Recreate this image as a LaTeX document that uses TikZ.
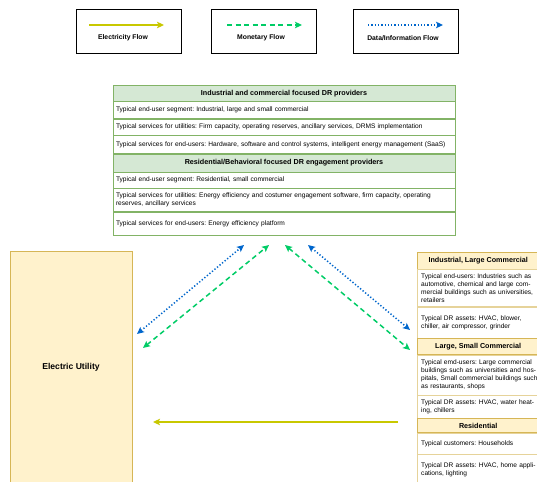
\documentclass[tikz,border=0pt]{standalone}
\usepackage{fontspec}
\setmainfont{Liberation Sans}
\usetikzlibrary{arrows.meta,positioning}
\definecolor{elecflow}{HTML}{C8C800}
\definecolor{moneyflow}{HTML}{00CC66}
\definecolor{dataflow}{HTML}{0066CC}
\definecolor{provfill}{HTML}{D5E8D4}
\definecolor{provline}{HTML}{82B366}
\definecolor{custfill}{HTML}{FFF2CC}
\definecolor{custline}{HTML}{D6B656}
\newcommand{\rowfont}{\frenchspacing\fontsize{6.6}{8}\selectfont}
\newcommand{\headfont}{\bfseries\fontsize{7.2}{8.5}\selectfont}
\tikzset{flowtip/.tip={Stealth[length=7pt,width=6.5pt,inset=1.5pt]}}

\begin{document}
\begin{tikzpicture}[x=1pt,y=-1pt,
  legbox/.style={draw=black,line width=1pt,minimum width=105,minimum height=44,inner sep=0pt},
  leglbl/.style={font=\bfseries\fontsize{6.8}{8}\selectfont},
  elecarrow/.style={draw=elecflow,line width=1.5pt,-flowtip},
  moneyarrow/.style={draw=moneyflow,line width=1.5pt,dash pattern=on 5pt off 3.5pt},
  dataarrow/.style={draw=dataflow,line width=1.5pt,dash pattern=on 1.3pt off 2pt},
  provhead/.style={draw=provline,fill=provfill,minimum width=342,inner sep=0pt,font=\headfont},
  provrow/.style={draw=provline,fill=white,text width=336,align=left,inner xsep=3pt,inner ysep=0pt,font=\rowfont},
  custhead/.style={draw=custline,fill=custfill,minimum width=140,inner sep=0pt,font=\headfont},
  custrow/.style={draw=custline!60,fill=white,text width=132,align=left,inner xsep=4pt,inner ysep=0pt,font=\rowfont}]
 \useasboundingbox (0,0) rectangle (537,481);

 % legend
 \node[legbox] (legelec) at (128.5,32) {};
 \node[legbox] (legmoney) at (264,32) {};
 \node[legbox] (legdata) at (406,32) {};
 \coordinate (legelecA) at (89,25);  \coordinate (legelecB) at (164,25);
 \coordinate (legmoneyA) at (227,25); \coordinate (legmoneyB) at (302,25);
 \coordinate (legdataA) at (368,25);  \coordinate (legdataB) at (443,25);
 \draw[elecarrow] (legelecA) -- (legelecB);
 \draw[moneyarrow,-flowtip] (legmoneyA) -- (legmoneyB);
 \draw[dataarrow,-flowtip] (legdataA) -- (legdataB);
 \node[leglbl] (legeleclbl) at (123,38) {Electricity Flow};
 \node[leglbl] (legmoneylbl) at (261,38) {Monetary Flow};
 \node[leglbl] (legdatalbl) at (403,38) {Data/Information Flow};

 % DR providers
 \node[provhead,minimum height=16,anchor=north] (provhead1) at (284,85) {Industrial and commercial focused DR providers};
 \node[provrow,minimum height=17,below=0pt of provhead1] (provseg1) {Typical end-user segment: Industrial, large and small commercial};
 \node[provrow,minimum height=16,below=0pt of provseg1] (provutil1) {Typical services for utilities: Firm capacity, operating reserves, ancillary services, DRMS implementation};
 \node[provrow,minimum height=18,below=0pt of provutil1] (provend1) {Typical services for end-users: Hardware, software and control systems, intelligent energy management (SaaS)};
 \node[provhead,minimum height=18,below=0pt of provend1] (provhead2) {Residential/Behavioral focused DR engagement providers};
 \node[provrow,minimum height=16,below=0pt of provhead2] (provseg2) {Typical end-user segment: Residential, small commercial};
 \node[provrow,minimum height=23,below=0pt of provseg2] (provutil2) {Typical services for utilities: Energy efficiency and costumer engagement software, firm capacity, operating\\ reserves, ancillary services};
 \node[provrow,minimum height=23,below=0pt of provutil2] (provend2) {Typical services for end-users: Energy efficiency platform};

 % utility
 \node[draw=custline,fill=custfill,minimum width=122,minimum height=232,font=\bfseries\fontsize{8.6}{10}\selectfont] (utility) at (71,367) {Electric Utility};

 % customers (cut off by the right edge)
 \node[custhead,minimum height=17,anchor=north west] (custhead1) at (417,252) {\hspace*{-18pt}Industrial, Large Commercial};
 \node[custrow,minimum height=37,below=0pt of custhead1] (custusers1) {Typical end-users: Industries such as\\ automotive, chemical and large com-\\ mercial buildings such as universities,\\ retailers};
 \node[custrow,minimum height=31,below=0pt of custusers1] (custassets1) {Typical DR assets: HVAC, blower,\\ chiller, air compressor, grinder};
 \node[custhead,minimum height=16,below=0pt of custassets1] (custhead2) {\hspace*{-18pt}Large, Small Commercial};
 \node[custrow,minimum height=40,below=0pt of custhead2] (custusers2) {Typical emd-users: Large commercial\\ buildings such as universities and hos-\\ pitals, Small commercial buildings such\\ as restaurants, shops};
 \node[custrow,minimum height=23,below=0pt of custusers2] (custassets2) {Typical DR assets: HVAC, water heat-\\ ing, chillers};
 \node[custhead,minimum height=14,below=0pt of custassets2] (custhead3) {\hspace*{-18pt}Residential};
 \node[custrow,minimum height=21,below=0pt of custhead3] (custusers3) {Typical customers: Households};
 \node[custrow,minimum height=30,below=0pt of custusers3] (custassets3) {Typical DR assets: HVAC, home appli-\\ cations, lighting};

 % flows
 \coordinate (utilDataEnd) at (137,334);  \coordinate (provDataL) at (244,245);
 \coordinate (utilMoneyEnd) at (143,348); \coordinate (provMoneyL) at (269,245);
 \coordinate (provMoneyR) at (285,245);   \coordinate (custMoneyEnd) at (410,350);
 \coordinate (provDataR) at (308,245);    \coordinate (custDataEnd) at (410,330);
 \coordinate (custElecStart) at (398,422); \coordinate (utilElecEnd) at (153,422);
 \draw[dataarrow,flowtip-flowtip] (utilDataEnd) -- (provDataL);
 \draw[moneyarrow,flowtip-flowtip] (utilMoneyEnd) -- (provMoneyL);
 \draw[moneyarrow,flowtip-flowtip] (provMoneyR) -- (custMoneyEnd);
 \draw[dataarrow,flowtip-flowtip] (provDataR) -- (custDataEnd);
 \draw[elecarrow] (custElecStart) -- (utilElecEnd);
\end{tikzpicture}
\end{document}
